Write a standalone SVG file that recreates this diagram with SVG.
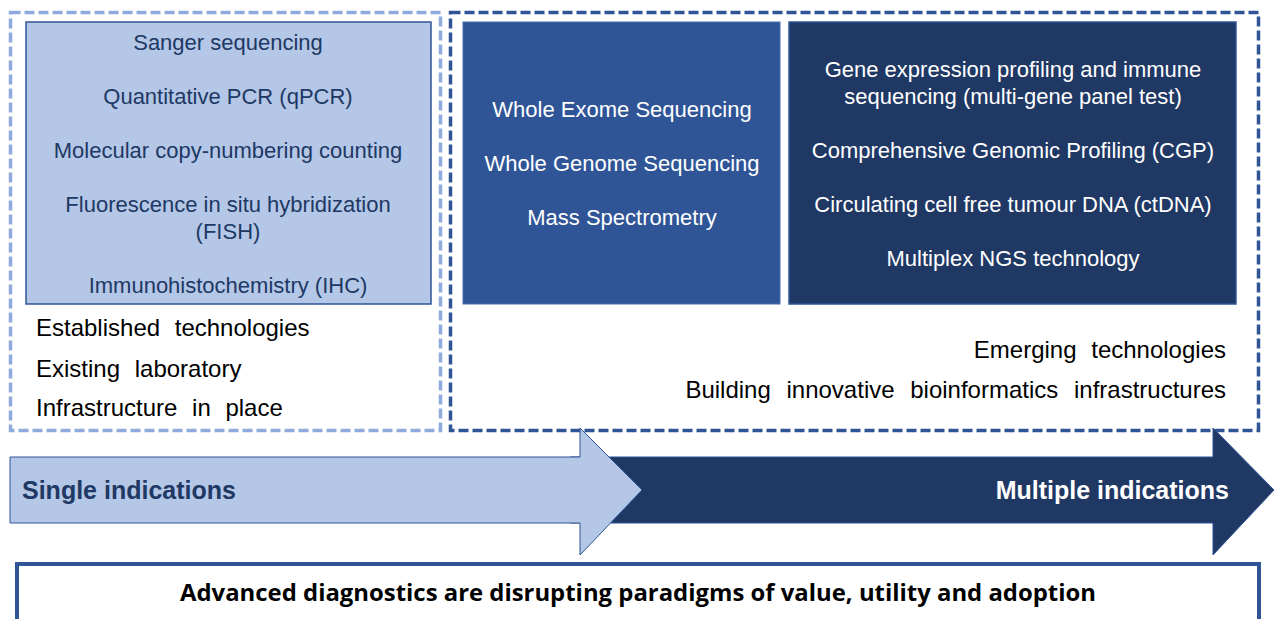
<svg xmlns="http://www.w3.org/2000/svg" width="1275" height="619" viewBox="0 0 1275 619">
  <style>
    .t { font-family: "Liberation Sans", Arial, sans-serif; }
    .lt { font-size: 22px; fill: #203864; text-anchor: middle; }
    .wt { font-size: 22px; fill: #ffffff; text-anchor: middle; }
    .bt { font-size: 24px; fill: #000000; word-spacing: 8px; }
    .lbl { font-size: 25px; font-weight: bold; }
    .dashL { fill: none; stroke: #8faadc; stroke-width: 3.5; stroke-dasharray: 10 4; }
    .dashR { fill: none; stroke: #2f5597; stroke-width: 3.5; stroke-dasharray: 10 4; }
  </style>

  <rect width="1275" height="619" fill="#ffffff"/>

  <!-- Established technologies group -->
  <g id="established">
    <rect class="dashL" x="10.5" y="12.5" width="430" height="418"/>
    <rect x="26" y="22" width="405" height="282" fill="#b4c7e7" stroke="#2f5597" stroke-width="1.5"/>
    <g class="t lt">
      <text x="228" y="50">Sanger sequencing</text>
      <text x="228" y="104">Quantitative PCR (qPCR)</text>
      <text x="228" y="158">Molecular copy-numbering counting</text>
      <text x="228" y="212">Fluorescence in situ hybridization</text>
      <text x="228" y="239">(FISH)</text>
      <text x="228" y="293">Immunohistochemistry (IHC)</text>
    </g>
    <g class="t bt">
      <text x="36" y="336">Established technologies</text>
      <text x="36" y="377">Existing laboratory</text>
      <text x="36" y="416">Infrastructure in place</text>
    </g>
  </g>

  <!-- Emerging technologies group -->
  <g id="emerging">
    <rect class="dashR" x="450.5" y="12.5" width="808" height="418"/>
    <text class="t bt" x="1226" y="358" text-anchor="end">Emerging technologies</text>
    <text class="t bt" x="1226" y="398" text-anchor="end" style="word-spacing:9px">Building innovative bioinformatics infrastructures</text>
  </g>

  <g id="sequencing">
    <rect x="463" y="22" width="317" height="282" fill="#2f5597" stroke="#4a6fae" stroke-width="1"/>
    <g class="t wt">
      <text x="622" y="117">Whole Exome Sequencing</text>
      <text x="622" y="171">Whole Genome Sequencing</text>
      <text x="622" y="225">Mass Spectrometry</text>
    </g>
  </g>

  <g id="profiling">
    <rect x="789" y="22" width="447" height="282" fill="#203864" stroke="#2f5597" stroke-width="1.5"/>
    <g class="t wt">
      <text x="1013" y="77">Gene expression profiling and immune</text>
      <text x="1013" y="104">sequencing (multi-gene panel test)</text>
      <text x="1013" y="158">Comprehensive Genomic Profiling (CGP)</text>
      <text x="1013" y="212">Circulating cell free tumour DNA (ctDNA)</text>
      <text x="1013" y="266">Multiplex NGS technology</text>
    </g>
  </g>

  <!-- Progression arrows -->
  <g id="connectors">
    <g id="multiple-arrow">
      <path d="M570 457 H1213 V428 L1274 490 L1213 555 V523 H570 Z" fill="#203864" stroke="#2f5597" stroke-width="1"/>
      <text class="t lbl" x="1229" y="499" fill="#ffffff" text-anchor="end">Multiple indications</text>
    </g>
    <g id="single-arrow">
      <path d="M10 457 H580 V428 L642 490 L580 555 V523 H10 Z" fill="#b4c7e7" stroke="#2f5597" stroke-width="1"/>
      <text class="t lbl" x="22" y="499" fill="#203864">Single indications</text>
    </g>
  </g>

  <!-- Summary banner -->
  <g id="summary">
    <rect x="17" y="564" width="1242" height="60" fill="#ffffff" stroke="#2f5597" stroke-width="4"/>
    <text x="638" y="601" font-family="'Open Sans', Lato, sans-serif" font-weight="bold" font-size="23" fill="#000000" text-anchor="middle" textLength="916" lengthAdjust="spacingAndGlyphs">Advanced diagnostics are disrupting paradigms of value, utility and adoption</text>
  </g>
</svg>
